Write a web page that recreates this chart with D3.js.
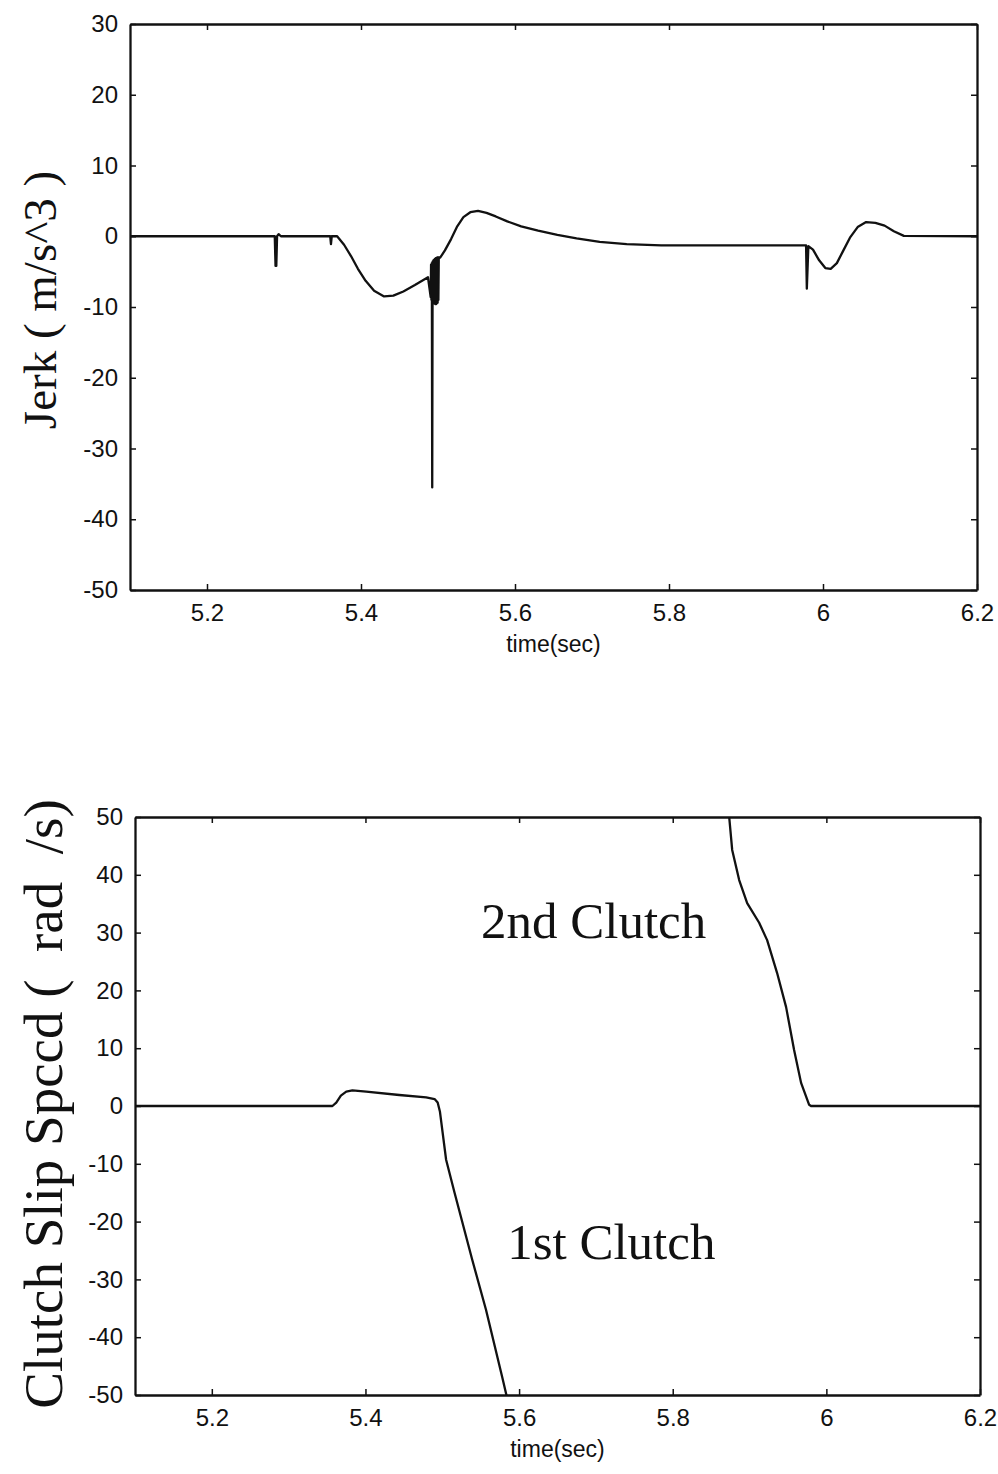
<!DOCTYPE html>
<html>
<head>
<meta charset="utf-8">
<script src="https://cdn.jsdelivr.net/npm/d3@7"></script>
<style>
  body { margin: 0; background: #fff; }
  .tick text { font-family: "Liberation Sans", Arial, sans-serif; font-size: 24px; fill: #111; }
  .ylab, .note { font-family: "Liberation Serif", "Times New Roman", serif; fill: #111; white-space: pre; }
  .xlab { font-family: "Liberation Sans", Arial, sans-serif; font-size: 23px; fill: #111; }
</style>
</head>
<body>
<div id="area"></div>
<script>
// ---- data ----
var xTicks = [5.2, 5.4, 5.6, 5.8, 6.0, 6.2];
var xTickLabels = ['5.2', '5.4', '5.6', '5.8', '6', '6.2'];

var jerkTicks = [30, 20, 10, 0, -10, -20, -30, -40, -50];
var jerkTickLabels = ['30', '20', '10', '0', '-10', '-20', '-30', '-40', '-50'];

var slipTicks = [50, 40, 30, 20, 10, 0, -10, -20, -30, -40, -50];
var slipTickLabels = ['50', '40', '30', '20', '10', '0', '-10', '-20', '-30', '-40', '-50'];

// jerk (m/s^3) vs time
var jerkTime = [5.100, 5.288, 5.289, 5.290, 5.291, 5.293, 5.296, 5.360, 5.361, 5.362,
  5.369, 5.378, 5.387, 5.396, 5.406, 5.417, 5.430, 5.442, 5.455, 5.470, 5.487,
  5.4905, 5.491, 5.4915, 5.492, 5.4925, 5.493, 5.4935, 5.494, 5.4945, 5.495, 5.4955,
  5.496, 5.4965, 5.497, 5.4975, 5.498, 5.4985, 5.499, 5.4995, 5.500, 5.5005, 5.501,
  5.503, 5.509, 5.517, 5.525, 5.533, 5.542, 5.552, 5.563, 5.575, 5.590, 5.608, 5.630,
  5.655, 5.680, 5.710, 5.745, 5.790, 5.978, 5.979, 5.981, 5.987, 5.995, 6.003, 6.010,
  6.018, 6.026, 6.035, 6.045, 6.056, 6.068, 6.080, 6.092, 6.105, 6.200];
var jerkValue = [0, 0, -4.2, -4.2, 0, 0.3, 0, 0, -1.1, 0,
  0, -1.2, -2.8, -4.6, -6.3, -7.7, -8.5, -8.4, -7.8, -6.9, -5.8,
  -8.6, -4.0, -9.0, -3.8, -35.5, -3.6, -9.4, -3.4, -9.5, -3.3, -9.5,
  -3.2, -9.6, -3.1, -9.6, -3.1, -9.5, -3.0, -9.4, -3.0, -9.0, -3.0,
  -3.0, -2.0, -0.4, 1.4, 2.7, 3.4, 3.6, 3.3, 2.8, 2.1, 1.4, 0.8,
  0.2, -0.3, -0.8, -1.1, -1.3, -1.3, -7.4, -1.4, -1.9, -3.4, -4.5, -4.6,
  -3.8, -2.1, -0.2, 1.3, 2.0, 1.9, 1.5, 0.7, 0.05, 0];

// clutch slip speed (rad/s) vs time
var clutch1Time = [5.100, 5.357, 5.362, 5.368, 5.375, 5.383, 5.401, 5.444, 5.479, 5.490,
  5.494, 5.497, 5.505, 5.516, 5.539, 5.557, 5.578, 5.587];
var clutch1Value = [0, 0, 0.6, 1.8, 2.5, 2.7, 2.5, 1.9, 1.5, 1.2,
  0.6, -1.0, -9.3, -15.0, -26.6, -35.3, -46.9, -52];

var clutch2Time = [5.871, 5.8735, 5.8774, 5.8865, 5.8969, 5.9125, 5.9229, 5.9359, 5.9476,
  5.958, 5.9671, 5.9776, 5.980, 6.200];
var clutch2Value = [52, 50, 44.3, 39.1, 35.1, 31.7, 28.7, 23.0, 17.1,
  9.7, 4.0, 0.2, 0, 0];

function zipSeries(t, v) {
  return t.map(function(d, i) { return {t: d, v: v[i]}; });
}

var svg = d3.select('#area').append('svg')
  .attr('width', 998)
  .attr('height', 1474);

function drawPanel(opt) {
  var m = opt.box;
  var w = m.right - m.left, h = m.bottom - m.top;
  var g = svg.append('g')
    .attr('transform', 'translate(' + m.left + ',' + m.top + ')');

  var x = d3.scaleLinear().domain([5.1, 6.2]).range([0, w]);
  var y = d3.scaleLinear().domain(opt.yDomain).range([h, 0]);

  g.append('clipPath').attr('id', opt.id + '-clip')
    .append('rect').attr('width', w).attr('height', h);

  var line = d3.line()
    .x(function(d) { return x(d.t); })
    .y(function(d) { return y(d.v); });

  opt.series.forEach(function(s) {
    g.append('path')
      .datum(s)
      .attr('clip-path', 'url(#' + opt.id + '-clip)')
      .attr('fill', 'none')
      .attr('stroke', '#111')
      .attr('stroke-width', 2.3)
      .attr('stroke-linejoin', 'round')
      .attr('d', line);
  });

  // matlab style box with inward ticks
  var xb = d3.axisBottom(x).tickValues(xTicks)
    .tickFormat(function(d, i) { return xTickLabels[i]; })
    .tickSizeInner(-6).tickSizeOuter(0).tickPadding(14);
  var xt = d3.axisTop(x).tickValues(xTicks).tickFormat('')
    .tickSizeInner(-6).tickSizeOuter(0);
  var yl = d3.axisLeft(y).tickValues(opt.yTicks)
    .tickFormat(function(d, i) { return opt.yTickLabels[i]; })
    .tickSizeInner(-6).tickSizeOuter(0).tickPadding(12);
  var yr = d3.axisRight(y).tickValues(opt.yTicks).tickFormat('')
    .tickSizeInner(-6).tickSizeOuter(0);

  g.append('g').attr('transform', 'translate(0,' + h + ')').call(xb);
  g.append('g').call(xt);
  g.append('g').call(yl);
  g.append('g').attr('transform', 'translate(' + w + ',0)').call(yr);

  g.selectAll('.domain').attr('stroke', '#111').attr('stroke-width', 2.3);
  g.selectAll('.tick line').attr('stroke', '#111').attr('stroke-width', 1.5);

  g.append('text')
    .attr('class', 'xlab')
    .attr('x', w / 2)
    .attr('y', h + 62)
    .attr('text-anchor', 'middle')
    .text('time(sec)');

  svg.append('text')
    .attr('class', 'ylab')
    .attr('transform', 'translate(' + opt.yLabelPos[0] + ',' + opt.yLabelPos[1] + ') rotate(-90)')
    .attr('text-anchor', 'middle')
    .style('font-size', opt.yLabelSize + 'px')
    .text(opt.yLabel);

  return {x: x, y: y, g: g};
}

drawPanel({
  id: 'jerk',
  box: {left: 130, right: 977, top: 24, bottom: 590},
  yDomain: [-50, 30],
  yTicks: jerkTicks,
  yTickLabels: jerkTickLabels,
  series: [zipSeries(jerkTime, jerkValue)],
  yLabel: 'Jerk ( m/s^3 )',
  yLabelSize: 47,
  yLabelPos: [56, 300]
});

var slip = drawPanel({
  id: 'slip',
  box: {left: 135, right: 980, top: 817, bottom: 1395},
  yDomain: [-50, 50],
  yTicks: slipTicks,
  yTickLabels: slipTickLabels,
  series: [zipSeries(clutch1Time, clutch1Value), zipSeries(clutch2Time, clutch2Value)],
  yLabel: 'Clutch Slip Spccd (  rad  /s)',
  yLabelSize: 55,
  yLabelPos: [62, 1104]
});

slip.g.append('text')
  .attr('class', 'note')
  .attr('x', slip.x(5.697))
  .attr('y', slip.y(29))
  .attr('text-anchor', 'middle')
  .style('font-size', '51px')
  .text('2nd Clutch');

slip.g.append('text')
  .attr('class', 'note')
  .attr('x', slip.x(5.72))
  .attr('y', slip.y(-26.5))
  .attr('text-anchor', 'middle')
  .style('font-size', '51px')
  .text('1st Clutch');
</script>
</body>
</html>
